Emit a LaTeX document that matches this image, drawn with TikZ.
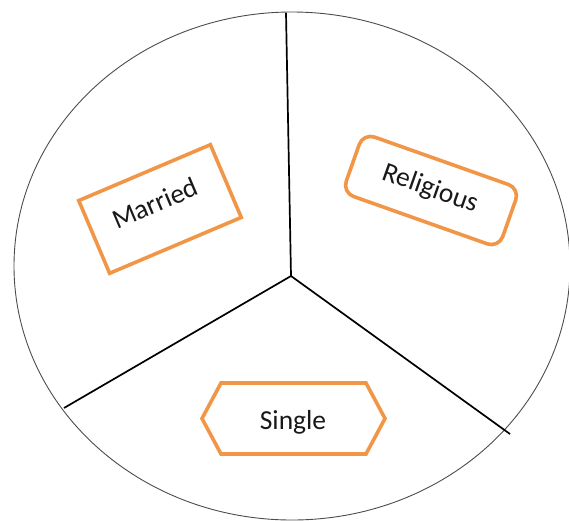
\documentclass[tikz,border=0pt]{standalone}
\usepackage{fontspec}
\setmainfont{Carlito}
\usetikzlibrary{shapes.geometric}
\definecolor{boxorange}{RGB}{241,150,70}
\definecolor{txt}{RGB}{25,25,25}
\begin{document}
\begin{tikzpicture}[x=1pt,y=-1pt,
  outline/.style={draw=black!70, line width=0.9pt},
  spoke/.style={draw=black, line width=1.7pt},
  obox/.style={draw=boxorange, line width=3.6pt, fill=white},
  lbl/.style={text=txt, font=\fontsize{27.5}{32}\selectfont, inner sep=0pt}]
\useasboundingbox (0,0) rectangle (569,520);
\node[ellipse, outline, minimum width=556pt, minimum height=508pt, inner sep=0pt] (circ) at (292,266) {};
\coordinate (hub) at (291,276);
\coordinate (topend) at (286,13);
\coordinate (leftend) at (64,408);
\coordinate (rightend) at (510,434);
\draw[spoke] (hub) -- (topend);
\draw[spoke] (hub) -- (leftend);
\draw[spoke] (hub) -- (rightend);
\node[obox, rotate=23, minimum width=143pt, minimum height=79pt] (married) at (160,209) {};
\node[obox, rounded corners=12pt, rotate=-19.5, minimum width=166pt, minimum height=63pt] (religious) at (431,190.5) {};
\coordinate (hl) at (202,418.5);
\coordinate (htl) at (221,383);
\coordinate (htr) at (366,383);
\coordinate (hr) at (385,418.5);
\coordinate (hbr) at (366,454);
\coordinate (hbl) at (221,454);
\draw[obox] (hl) -- (htl) -- (htr) -- (hr) -- (hbr) -- (hbl) -- cycle;
\node[lbl, rotate=23] (marriedtext) at (155,203) {Married};
\node[lbl, rotate=-19.5] (religioustext) at (430,189) {Religious};
\node[lbl] (singletext) at (293,422) {Single};
\end{tikzpicture}
\end{document}
